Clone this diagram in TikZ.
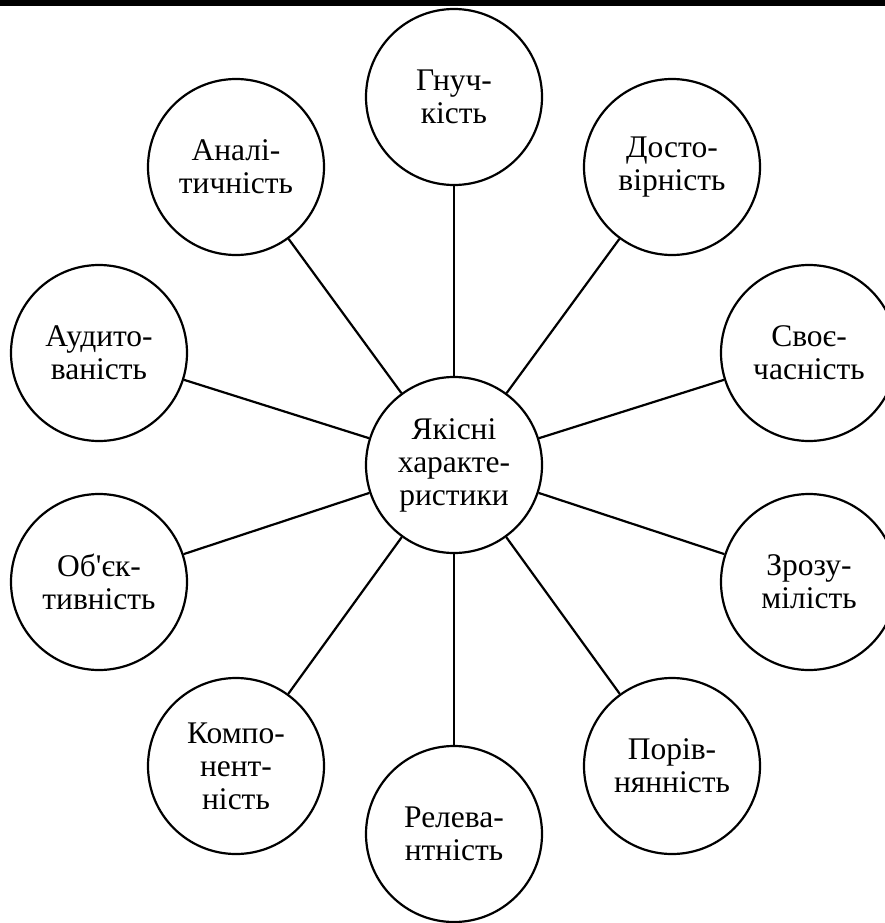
\documentclass[tikz,border=0pt]{standalone}
\usepackage{fontspec}
\setmainfont{Liberation Serif}[Ligatures=TeXOff]
\begin{document}
\begin{tikzpicture}[x=1pt,y=-1pt,
  bub/.style={circle,draw=black,line width=2.2pt,fill=white,minimum size=176pt,inner sep=0pt,
    align=center,font=\fontsize{31.5}{33}\selectfont},
  link/.style={line width=2.2pt}]
\useasboundingbox (0,0) rectangle (885,923);
\fill[black] (0,0) rectangle (885,6);
\node[bub] (c) at (454,465) {Якісні\\характе-\\ристики};
\node[bub] (n1) at (454,97) {Гнуч-\\кість};
\node[bub] (n2) at (672,167) {Досто-\\вірність};
\node[bub] (n3) at (809,353) {Своє-\\часність};
\node[bub] (n4) at (809,582) {Зрозу-\\мілість};
\node[bub] (n5) at (672,766) {Порів-\\нянність};
\node[bub] (n6) at (454,834) {Релева-\\нтність};
\node[bub] (n7) at (236,766) {Компо-\\нент-\\ність};
\node[bub] (n8) at (99,582) {Об'єк-\\тивність};
\node[bub] (n9) at (99,353) {Аудито-\\ваність};
\node[bub] (n10) at (236,167) {Аналі-\\тичність};
\foreach \n in {n1,n2,n3,n4,n5,n6,n7,n8,n9,n10}
  \draw[link] (c) -- (\n);
\end{tikzpicture}
\end{document}
